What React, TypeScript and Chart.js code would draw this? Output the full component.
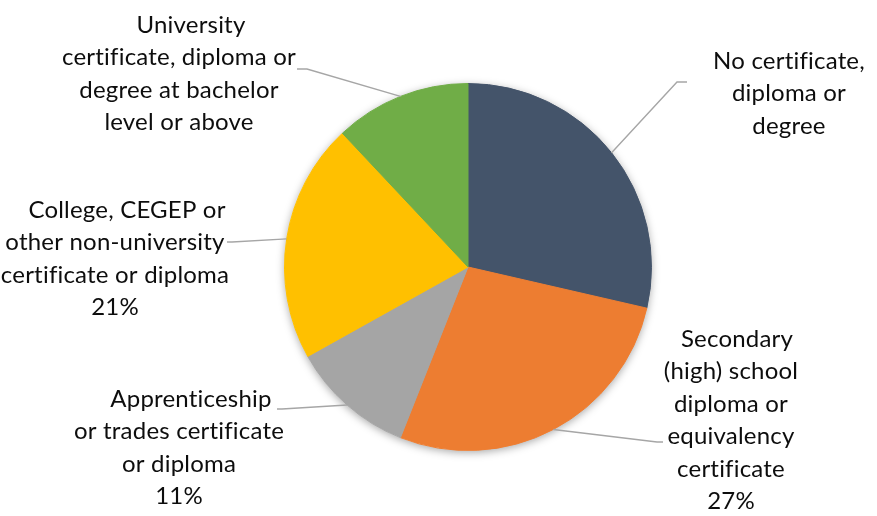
import React, { useEffect, useRef } from "react";
import { Chart, registerables } from "chart.js";

Chart.register(...registerables);

// ---- data ----
const categories = [
  "No certificate, diploma or degree",
  "Secondary (high) school diploma or equivalency certificate",
  "Apprenticeship or trades certificate or diploma",
  "College, CEGEP or other non-university certificate or diploma",
  "University certificate, diploma or degree at bachelor level or above",
];
const shares = [28.6, 27.4, 10.9, 21.1, 12.0];
const labelLines = [
  ["No certificate,", "diploma or", "degree"],
  ["Secondary", "(high) school", "diploma or", "equivalency", "certificate"],
  ["Apprenticeship", "or trades certificate", "or diploma"],
  ["College, CEGEP or", "other non-university", "certificate or diploma"],
  ["University", "certificate, diploma or", "degree at bachelor", "level or above"],
];
const showPercent = [false, true, true, true, false];

// ---- style / layout ----
const colors = ["#44546A", "#ED7D31", "#A5A5A5", "#FFC000", "#70AD47"];
const FONT = "Lato, 'Open Sans', sans-serif";
const FONT_SIZE = 24;
const LINE_H = 32.4;
// label placement relative to pie centre (px): text centre x, first baseline y, first-line shift,
// leader elbow and leader end
const labelLayout = [
  { tx: 321, ty: -198, shift: 0, elbow: [209, -185], end: [219, -185] },
  { tx: 263, ty: 80, shift: 6, elbow: [189, 175], end: [195, 175] },
  { tx: -289, ty: 140, shift: 12, elbow: [-186, 142], end: [-191, 142] },
  { tx: -353, ty: -49, shift: 12, elbow: [-236, -25], end: [-241, -25] },
  { tx: -289, ty: -234, shift: 12, elbow: [-161, -198], end: [-171, -198] },
];

const shadowPlugin = {
  id: "pieShadow",
  beforeDatasetsDraw(chart: any) {
    const meta = chart.getDatasetMeta(0);
    const arc = meta.data[0];
    if (!arc) return;
    const ctx = chart.ctx;
    ctx.save();
    ctx.shadowColor = "rgba(0,0,0,0.35)";
    ctx.shadowBlur = 9;
    ctx.shadowOffsetX = 0;
    ctx.shadowOffsetY = 2;
    ctx.fillStyle = "#ffffff";
    ctx.beginPath();
    ctx.arc(arc.x, arc.y, arc.outerRadius, 0, Math.PI * 2);
    ctx.fill();
    ctx.restore();
  },
};

const labelPlugin = {
  id: "outsideLabels",
  afterDatasetsDraw(chart: any) {
    const meta = chart.getDatasetMeta(0);
    const ctx = chart.ctx;
    const data = chart.data.datasets[0].data as number[];
    const total = data.reduce((a, b) => a + b, 0);
    meta.data.forEach((arc: any, i: number) => {
      const lay = labelLayout[i];
      const cx = arc.x;
      const cy = arc.y;
      const mid = (arc.startAngle + arc.endAngle) / 2;
      const r = arc.outerRadius;
      const px = cx + Math.cos(mid) * r;
      const py = cy + Math.sin(mid) * r;
      ctx.save();
      ctx.strokeStyle = "#A6A6A6";
      ctx.lineWidth = 1.4;
      ctx.beginPath();
      ctx.moveTo(px, py);
      ctx.lineTo(cx + lay.elbow[0], cy + lay.elbow[1]);
      ctx.lineTo(cx + lay.end[0], cy + lay.end[1]);
      ctx.stroke();
      ctx.restore();

      const lines = [...labelLines[i]];
      if (showPercent[i]) lines.push(Math.round((data[i] / total) * 100) + "%");
      ctx.save();
      ctx.fillStyle = "#0d0d0d";
      ctx.font = `${FONT_SIZE}px ${FONT}`;
      try {
        (ctx as any).letterSpacing = "0.2px";
      } catch (e) {}
      ctx.textAlign = "center";
      ctx.textBaseline = "alphabetic";
      lines.forEach((t, k) => {
        const x = cx + lay.tx + (k === 0 ? lay.shift : 0);
        const y = cy + lay.ty + k * LINE_H;
        ctx.fillText(t, x, y);
      });
      ctx.restore();
    });
  },
};

export default function App() {
  const ref = useRef<HTMLCanvasElement>(null);
  useEffect(() => {
    if (!ref.current) return;
    const chart = new Chart(ref.current, {
      type: "pie",
      data: {
        labels: categories,
        datasets: [
          {
            data: shares,
            backgroundColor: colors,
            borderColor: colors,
            borderWidth: 1,
          },
        ],
      },
      options: {
        responsive: false,
        animation: false,
        layout: { padding: { left: 284, right: 225, top: 83, bottom: 65 } },
        plugins: {
          legend: { display: false },
          tooltip: { enabled: false },
        },
      },
      plugins: [shadowPlugin, labelPlugin],
    });
    (document as any).fonts?.load?.(`${FONT_SIZE}px Lato`).then(() => chart.update()).catch(() => {});
    return () => chart.destroy();
  }, []);
  return (
    <div style={{ position: "absolute", left: 0, top: 0, width: 877, height: 516, background: "#fff" }}>
      <canvas ref={ref} width={877} height={516} />
    </div>
  );
}
